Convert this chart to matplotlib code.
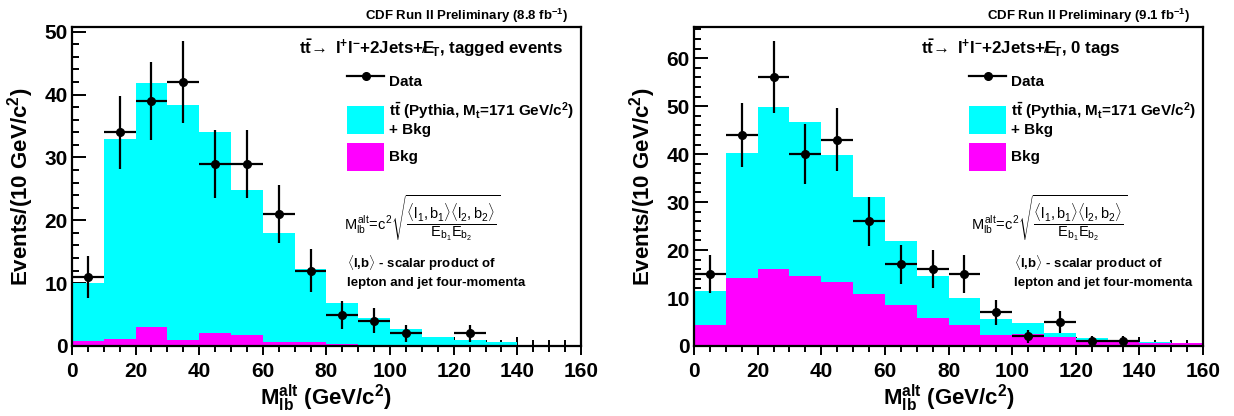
import numpy as np
import matplotlib
matplotlib.use("Agg")
import matplotlib.pyplot as plt
from matplotlib.lines import Line2D
from matplotlib.patches import Patch
from matplotlib.ticker import MultipleLocator

# estilo tipo ROOT: Helvetica negrita -> Liberation Sans
plt.rcParams.update({
    "font.family": ["Liberation Sans", "DejaVu Sans"],
    "font.weight": "bold",
    "mathtext.fontset": "custom",
    "mathtext.rm": "Liberation Sans:weight=normal",
    "mathtext.it": "Liberation Sans:weight=normal",
    "mathtext.bf": "Liberation Sans:weight=bold",
    "axes.linewidth": 1.6,
})

# ---- datos ----
bin_edges = [0, 10, 20, 30, 40, 50, 60, 70, 80, 90, 100, 110, 120, 130, 140, 150, 160]

# eventos con tag
tot_tag = [10.1, 32.9, 41.9, 38.3, 34.0, 24.8, 17.9, 12.3, 6.9, 4.4, 2.7, 1.4, 1.0, 0.6, 0.0, 0.0]
bkg_tag = [0.8, 1.1, 3.1, 1.0, 2.0, 1.7, 0.6, 0.7, 0.3, 0.2, 0.1, 0.0, 0.0, 0.0, 0.0, 0.0]
data_tag = [11, 34, 39, 42, 29, 29, 21, 12, 5, 4, 2, 0, 2, 0, 0, 0]

# 0 tags
tot_0tag = [11.5, 40.2, 49.8, 46.6, 39.9, 31.0, 21.8, 14.6, 9.9, 5.7, 4.8, 2.7, 1.6, 1.3, 0.8, 0.7]
bkg_0tag = [4.3, 14.1, 16.0, 14.6, 13.4, 10.8, 8.6, 5.9, 4.3, 2.3, 2.5, 1.8, 0.9, 0.8, 0.7, 0.7]
data_0tag = [15, 44, 56, 40, 43, 26, 17, 16, 15, 7, 2, 5, 1, 1, 0, 0]

CYAN = "#00ffff"
MAGENTA = "#ff00ff"

FORMULA = (r"$M_{lb}^{alt}\!=\!c^2\sqrt{\dfrac{\langle l_1,b_1\rangle\langle l_2,b_2\rangle}"
           r"{E_{b_1}E_{b_2}}}$")
MET = r"$\mathbf{E}\!\!\!\!\!/\,\,{}_{\mathbf{T}}$"


def panel(ax, tot, bkg, data, ymax, lumi, tag_text, fx, sx):
    edges = np.array(bin_edges, dtype=float)
    centers = 0.5 * (edges[:-1] + edges[1:])
    half = 0.5 * np.diff(edges)
    n = np.array(data, dtype=float)

    ax.stairs(tot, edges, fill=True, color=CYAN, lw=0, zorder=1)
    ax.stairs(bkg, edges, fill=True, color=MAGENTA, lw=0, zorder=1.1)

    m = n > 0
    ax.errorbar(centers[m], n[m], xerr=half[m], yerr=np.sqrt(n[m]), fmt="o",
                color="black", ms=5.5, elinewidth=1.6, capsize=0, zorder=3)

    ax.set_xlim(0, 160)
    ax.set_ylim(0, ymax)
    ax.set_axisbelow(True)
    ax.xaxis.set_major_locator(MultipleLocator(20))
    ax.xaxis.set_minor_locator(MultipleLocator(5))
    ax.yaxis.set_major_locator(MultipleLocator(10))
    ax.yaxis.set_minor_locator(MultipleLocator(2))
    ax.tick_params(axis="x", which="major", direction="inout", length=13, width=1.4,
                   labelsize=15, pad=5)
    ax.tick_params(axis="x", which="minor", direction="inout", length=8, width=1.4)
    ax.tick_params(axis="y", which="major", direction="in", length=10, width=1.4,
                   labelsize=15, pad=3)
    ax.tick_params(axis="y", which="minor", direction="in", length=5, width=1.4)
    ax.tick_params(top=False, right=False)
    for lab in ax.get_xticklabels() + ax.get_yticklabels():
        lab.set_fontweight("bold")

    ax.set_xlabel(r"$\mathbf{M^{alt}_{lb}}$ (GeV/c$^{\mathbf{2}}$)", fontsize=16,
                  fontweight="bold", labelpad=1)
    ax.set_ylabel(r"Events/(10 GeV/c$^{\mathbf{2}}$)", fontsize=16, fontweight="bold")
    ax.yaxis.set_label_coords(-0.071, 0.5)

    ax.text(0.974, 1.034,
            "CDF Run II Preliminary (" + lumi + r" fb$^{\mathbf{-1}}$)",
            transform=ax.transAxes, ha="right", va="center", fontsize=9.5)
    ax.text(0.446, 0.934,
            r"$\mathbf{t\bar{t}}\!\rightarrow$ l$^{\mathbf{+}}$l$^{\mathbf{-}}$+2Jets+" + MET
            + ", " + tag_text,
            transform=ax.transAxes, ha="left", va="center", fontsize=12.2)

    handles = [
        Line2D([], [], color="black", marker="o", ms=5.5, lw=1.6),
        Patch(facecolor=CYAN, edgecolor="none"),
        Patch(facecolor=MAGENTA, edgecolor="none"),
    ]
    labels = [
        "Data",
        r"$\mathbf{t\bar{t}}$ (Pythia, M$_{\mathbf{t}}$=171 GeV/c$^{\mathbf{2}}$)" + "\n+ Bkg",
        "Bkg",
    ]
    ax.legend(handles, labels, loc="upper left", bbox_to_anchor=(0.541, 0.875),
              frameon=False, borderpad=0, borderaxespad=0, handlelength=2.4,
              handleheight=2.45, handletextpad=0.35, labelspacing=0.35,
              prop={"weight": "bold", "size": 11})

    ax.text(fx, 0.40, FORMULA, transform=ax.transAxes, ha="left",
            va="center", fontsize=10.5, fontweight="normal")
    ax.text(sx, 0.260, r"$\langle$l,b$\rangle$ - scalar product of",
            transform=ax.transAxes, ha="left", va="center", fontsize=9.5)
    ax.text(sx, 0.197, "lepton and jet four-momenta",
            transform=ax.transAxes, ha="left", va="center", fontsize=9.5)


fig = plt.figure(figsize=(12.34, 4.16), dpi=100)
ax1 = fig.add_axes([0.0583, 0.1683, 0.4125, 0.7668])
ax2 = fig.add_axes([0.5624, 0.1683, 0.4125, 0.7668])

panel(ax1, tot_tag, bkg_tag, data_tag, 50.75, "8.8", "tagged events", 0.534, 0.540)
panel(ax2, tot_0tag, bkg_0tag, data_0tag, 66.5, "9.1", "0 tags", 0.544, 0.628)

fig.savefig("out.png", dpi=100)
plt.close(fig)
